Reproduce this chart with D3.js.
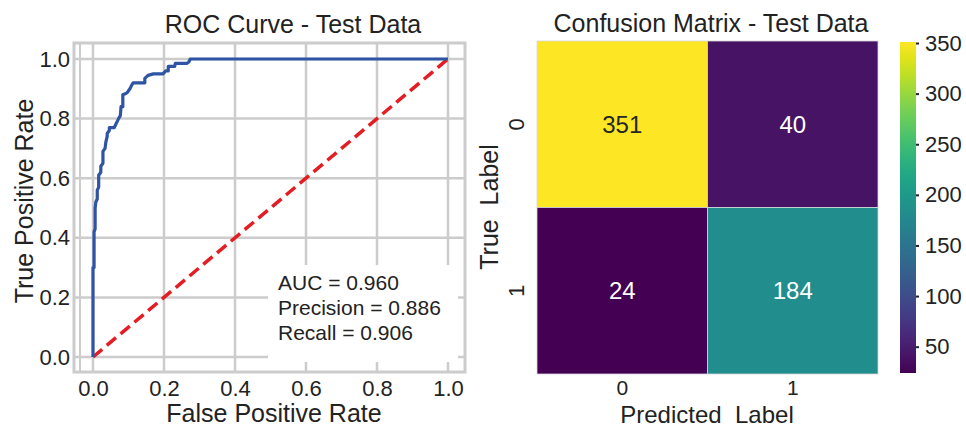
<!DOCTYPE html>
<html>
<head>
<meta charset="utf-8">
<script src="https://cdn.jsdelivr.net/npm/d3@7/dist/d3.min.js"></script>
<style>
  body { margin: 0; background: #fff; }
  text { font-family: "Liberation Sans", Arial, sans-serif; fill: #222; }
</style>
</head>
<body>
<svg id="chart" width="966" height="429"></svg>
<script>
// ROC curve vertices (staircase)
const fpr = [0, 0, 0.003, 0.003, 0.006, 0.006, 0.008, 0.012, 0.012, 0.016, 0.016, 0.022, 0.022, 0.028, 0.028,
  0.034, 0.036, 0.040, 0.040, 0.046, 0.046, 0.060, 0.064, 0.068, 0.072, 0.077, 0.079, 0.084, 0.084, 0.094,
  0.098, 0.104, 0.108, 0.113, 0.146, 0.146, 0.155, 0.170, 0.197, 0.205, 0.212, 0.212, 0.230, 0.232, 0.264,
  0.270, 0.274, 1.0];
const tpr = [0, 0.30, 0.30, 0.42, 0.43, 0.50, 0.52, 0.53, 0.56, 0.57, 0.61, 0.62, 0.64, 0.65, 0.69,
  0.70, 0.72, 0.74, 0.75, 0.76, 0.77, 0.77, 0.78, 0.79, 0.80, 0.81, 0.84, 0.84, 0.88, 0.885,
  0.89, 0.90, 0.91, 0.92, 0.92, 0.935, 0.945, 0.95, 0.95, 0.96, 0.96, 0.975, 0.975, 0.985, 0.985,
  0.99, 1.0, 1.0];
const rocTicks = [0, 0.2, 0.4, 0.6, 0.8, 1.0];
const metrics = ["AUC = 0.960", "Precision = 0.886", "Recall = 0.906"];

const cmLabels = ["0", "1"];
const cmValues = [[351, 40], [24, 184]];
const cbTicks = [50, 100, 150, 200, 250, 300, 350];

const svg = d3.select("#chart");
const grid = "#cccccc";

// ---------- ROC panel ----------
const x = d3.scaleLinear().domain([0, 1]).range([93, 448]);
const y = d3.scaleLinear().domain([0, 1]).range([357, 59]);
const frame = {x0: 74, x1: 465, y0: 43, y1: 372};

const roc = svg.append("g");
roc.append("rect")
  .attr("x", frame.x0).attr("y", frame.y0)
  .attr("width", frame.x1 - frame.x0).attr("height", frame.y1 - frame.y0)
  .attr("fill", "none").attr("stroke", grid).attr("stroke-width", 3);
roc.append("line")
  .attr("x1", 80).attr("x2", 80).attr("y1", frame.y0).attr("y2", frame.y1)
  .attr("stroke", grid).attr("stroke-width", 2);

roc.selectAll(".vg").data(rocTicks).join("line")
  .attr("x1", d => x(d)).attr("x2", d => x(d))
  .attr("y1", frame.y0).attr("y2", frame.y1)
  .attr("stroke", grid).attr("stroke-width", 2.5);
roc.selectAll(".hg").data(rocTicks).join("line")
  .attr("x1", frame.x0).attr("x2", frame.x1)
  .attr("y1", d => y(d)).attr("y2", d => y(d))
  .attr("stroke", grid).attr("stroke-width", 2.5);

// metrics box (white background hides grid)
roc.append("rect")
  .attr("x", 268).attr("y", 265).attr("width", 190).attr("height", 97)
  .attr("fill", "#fff");
roc.append("text")
  .attr("x", 278).attr("y", 290)
  .attr("font-size", 21)
  .selectAll("tspan").data(metrics).join("tspan")
  .attr("x", 278).attr("dy", (d, i) => i === 0 ? 0 : 25)
  .text(d => d);

// axes tick labels
const yAxis = roc.append("g")
  .attr("transform", "translate(70,0)")
  .call(d3.axisLeft(y).tickValues(rocTicks).tickFormat(d3.format(".1f")).tickSize(0));
yAxis.select(".domain").remove();
yAxis.selectAll("text").attr("font-size", 22).attr("x", 0);

const xAxis = roc.append("g")
  .attr("transform", "translate(0,377)")
  .call(d3.axisBottom(x).tickValues(rocTicks).tickFormat(d3.format(".1f")).tickSize(0));
xAxis.select(".domain").remove();
xAxis.selectAll("text").attr("font-size", 22).attr("y", 3).attr("dy", "0.71em");

// diagonal and curve
roc.append("line")
  .attr("x1", x(0)).attr("y1", y(0)).attr("x2", x(1)).attr("y2", y(1))
  .attr("stroke", "#e31d24").attr("stroke-width", 3.5)
  .attr("stroke-dasharray", "12,6");
roc.append("path")
  .datum(fpr.map((f, i) => [f, tpr[i]]))
  .attr("fill", "none").attr("stroke", "#2e54a3").attr("stroke-width", 3.2)
  .attr("stroke-linejoin", "round")
  .attr("d", d3.line().x(d => x(d[0])).y(d => y(d[1])));

roc.append("text").attr("x", 293).attr("y", 33).attr("text-anchor", "middle")
  .attr("font-size", 25).text("ROC Curve - Test Data");
roc.append("text").attr("x", 274).attr("y", 422).attr("text-anchor", "middle")
  .attr("font-size", 25).text("False Positive Rate");
roc.append("text").attr("transform", "translate(33,201) rotate(-90)")
  .attr("text-anchor", "middle").attr("font-size", 25).text("True Positive Rate");

// ---------- Confusion matrix panel ----------
const flat = cmValues.flat();
const vmin = d3.min(flat), vmax = d3.max(flat);
const color = d3.scaleSequential(d3.interpolateViridis).domain([vmin, vmax]);
const cx = d3.scaleBand().domain(cmLabels).range([537, 878]);
const cy = d3.scaleBand().domain(cmLabels).range([41, 374]);

const cells = [];
cmLabels.forEach((r, i) => cmLabels.forEach((c, j) => cells.push({r, c, v: cmValues[i][j]})));

const cm = svg.append("g");
cm.selectAll("rect").data(cells).join("rect")
  .attr("x", d => cx(d.c)).attr("y", d => cy(d.r))
  .attr("width", cx.bandwidth()).attr("height", cy.bandwidth())
  .attr("fill", d => color(d.v))
  .attr("stroke", "#d8d8d8").attr("stroke-width", 0.8);
cm.selectAll(".val").data(cells).join("text")
  .attr("x", d => cx(d.c) + cx.bandwidth() / 2)
  .attr("y", d => cy(d.r) + cy.bandwidth() / 2)
  .attr("dy", "0.36em").attr("text-anchor", "middle").attr("font-size", 24)
  .style("fill", d => d.v > (vmin + vmax) / 2 ? "#262626" : "#fff")
  .text(d => d.v);

// tick labels
cm.selectAll(".xt").data(cmLabels).join("text")
  .attr("x", d => cx(d) + cx.bandwidth() / 2).attr("y", 395)
  .attr("text-anchor", "middle").attr("font-size", 21).text(d => d);
cm.selectAll(".yt").data(cmLabels).join("text")
  .attr("transform", d => `translate(524,${cy(d) + cy.bandwidth() / 2}) rotate(-90)`)
  .attr("text-anchor", "middle").attr("font-size", 22).text(d => d);

cm.append("text").attr("x", 711).attr("y", 32).attr("text-anchor", "middle")
  .attr("font-size", 25).text("Confusion Matrix - Test Data");
cm.append("text").attr("x", 707).attr("y", 423).attr("text-anchor", "middle")
  .attr("font-size", 24).style("white-space", "pre").text("Predicted  Label");
cm.append("text").attr("transform", "translate(498,207) rotate(-90)")
  .attr("text-anchor", "middle").attr("font-size", 25).style("white-space", "pre").text("True  Label");

// colorbar
const cbScale = d3.scaleLinear().domain([vmin, vmax]).range([373, 42]);
const grad = svg.append("defs").append("linearGradient")
  .attr("id", "vir").attr("x1", 0).attr("y1", 1).attr("x2", 0).attr("y2", 0);
d3.range(0, 1.0001, 0.05).forEach(t => {
  grad.append("stop").attr("offset", t).attr("stop-color", d3.interpolateViridis(t));
});
cm.append("rect").attr("x", 900).attr("y", 42).attr("width", 16).attr("height", 331)
  .attr("fill", "url(#vir)");
const cbAxis = cm.append("g").attr("transform", "translate(916,0)")
  .call(d3.axisRight(cbScale).tickValues(cbTicks).tickSize(3).tickPadding(6));
cbAxis.select(".domain").remove();
cbAxis.selectAll("line").attr("stroke", "#222").attr("stroke-width", 2);
cbAxis.selectAll("text").attr("font-size", 22);
</script>
</body>
</html>
